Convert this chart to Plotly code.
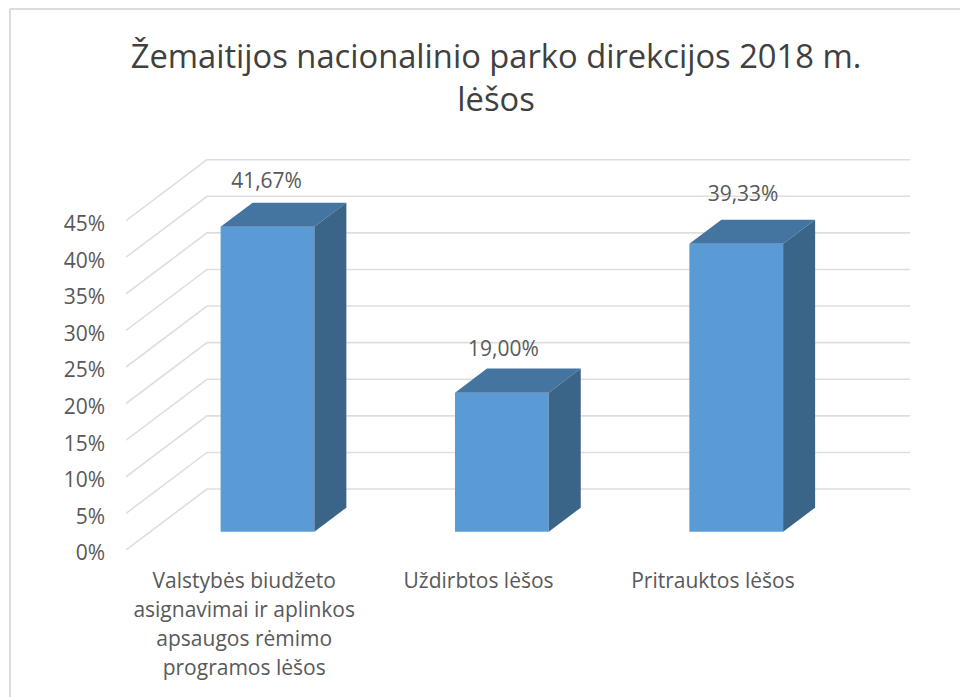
import plotly.graph_objects as go

# Data
categories = ["Valstybės biudžeto<br>asignavimai ir aplinkos<br>apsaugos rėmimo<br>programos lėšos",
              "Uždirbtos lėšos", "Pritrauktos lėšos"]
values = [41.67, 19.00, 39.33]
value_labels = ["41,67%", "19,00%", "39,33%"]
y_ticks = [0, 5, 10, 15, 20, 25, 30, 35, 40, 45]
y_tick_labels = ["0%", "5%", "10%", "15%", "20%", "25%", "30%", "35%", "40%", "45%"]

# Oblique projection of the depth axis, in axis units
DX, DY = 0.3456, 8.33
D0, D1 = 0.30, 0.695
HALF = 0.2
XMIN, XMAX = -0.5, 2.845
YMAX = 53.42
GRID = "#dedede"
TXT = "#595959"
FONT = "Open Sans"
FS = 21

# Label nudges, axis units
LABEL_DX = [-0.004, 0.007, 0.029]
LABEL_DY = [1.3, 1.0, 1.85]

# The page has an 8px body margin: figure size and margins are reduced by it
PAGE = 8
W, H = 968 - PAGE, 697 - PAGE
ML, MR, MT, MB = 126 - PAGE, 58, 159 - PAGE, 147
PW, PH = W - ML - MR, H - MT - MB


def spaced(s):
    return "<br>".join(f'<span style="font-size:{FS}px">{p}</span>' for p in s.split("<br>"))


fig = go.Figure()

# Walls: side wall diagonals plus back wall gridlines
gx, gy = [], []
for t in y_ticks:
    gx += [XMIN, XMIN + DX, XMAX, None]
    gy += [t, t + DY, t + DY, None]
fig.add_trace(go.Scatter(x=gx, y=gy, mode="lines", line=dict(color=GRID, width=1.6),
                         cliponaxis=False, hoverinfo="skip", showlegend=False))

# Front faces
fig.add_trace(go.Bar(x=[i + D0 * DX for i in range(3)], y=values, base=[D0 * DY] * 3,
                     width=2 * HALF, marker=dict(color="#5b9bd5", line=dict(width=0)),
                     xaxis="x2", yaxis="y2", showlegend=False))

# Top and side faces
for i, v in enumerate(values):
    xl, xr = i - HALF + D0 * DX, i + HALF + D0 * DX
    ddx, ddy = (D1 - D0) * DX, (D1 - D0) * DY
    yb, yt = D0 * DY, v + D0 * DY
    fig.add_trace(go.Scatter(x=[xl, xr, xr + ddx, xl + ddx, xl], y=[yt, yt, yt + ddy, yt + ddy, yt],
                             mode="lines", fill="toself", fillcolor="#4474a0", line=dict(width=0),
                             xaxis="x2", yaxis="y2", showlegend=False, hoverinfo="skip"))
    fig.add_trace(go.Scatter(x=[xr, xr + ddx, xr + ddx, xr, xr], y=[yb, yb + ddy, yt + ddy, yt, yb],
                             mode="lines", fill="toself", fillcolor="#3a6488", line=dict(width=0),
                             xaxis="x2", yaxis="y2", showlegend=False, hoverinfo="skip"))

# Value labels
fig.add_trace(go.Scatter(x=[i + D0 * DX + LABEL_DX[i] for i in range(3)],
                         y=[v + D1 * DY + LABEL_DY[i] for i, v in enumerate(values)],
                         mode="text", text=value_labels, textposition="top center",
                         textfont=dict(family=FONT, size=FS, color=TXT),
                         xaxis="x2", yaxis="y2", showlegend=False, hoverinfo="skip"))

fig.update_layout(
    width=W, height=H, autosize=False,
    margin=dict(l=ML, r=MR, t=MT, b=MB),
    paper_bgcolor="white", plot_bgcolor="white",
    font=dict(family=FONT, color=TXT),
    title=dict(text="Žemaitijos nacionalinio parko direkcijos 2018 m.<br>lėšos",
               x=(496 - PAGE) / W, xanchor="center", y=1 - 60 / H, yanchor="top",
               font=dict(family=FONT, size=32.7, color="#404040")),
    xaxis=dict(range=[XMIN, XMAX], tickmode="array", tickvals=[0, 1, 2],
               ticktext=[spaced(c) for c in categories], tickangle=0,
               tickfont=dict(family=FONT, size=22.3, color=TXT),
               showgrid=False, zeroline=False, showline=False, ticks="",
               ticklabelstandoff=15, ticklabelshift=1),
    yaxis=dict(range=[0, YMAX], tickmode="array", tickvals=y_ticks, ticktext=y_tick_labels,
               tickfont=dict(family=FONT, size=FS, color=TXT),
               showgrid=False, zeroline=False, showline=False, ticks="",
               ticklabelstandoff=20, ticklabelshift=3),
    xaxis2=dict(range=[XMIN, XMAX], visible=False, overlaying="x"),
    yaxis2=dict(range=[0, YMAX], visible=False, overlaying="y"),
    shapes=[dict(type="line", xref="paper", yref="paper",
                 x0=(10 - PAGE - ML) / PW, x1=(10 - PAGE - ML) / PW, y0=-MB / PH, y1=1 + (MT - 1) / PH,
                 line=dict(color="#dcdcdc", width=2)),
            dict(type="line", xref="paper", yref="paper",
                 x0=(10 - PAGE - ML) / PW, x1=1 + MR / PW, y0=1 + (MT - 1) / PH, y1=1 + (MT - 1) / PH,
                 line=dict(color="#dcdcdc", width=2))],
)
fig.write_html("out.html")
